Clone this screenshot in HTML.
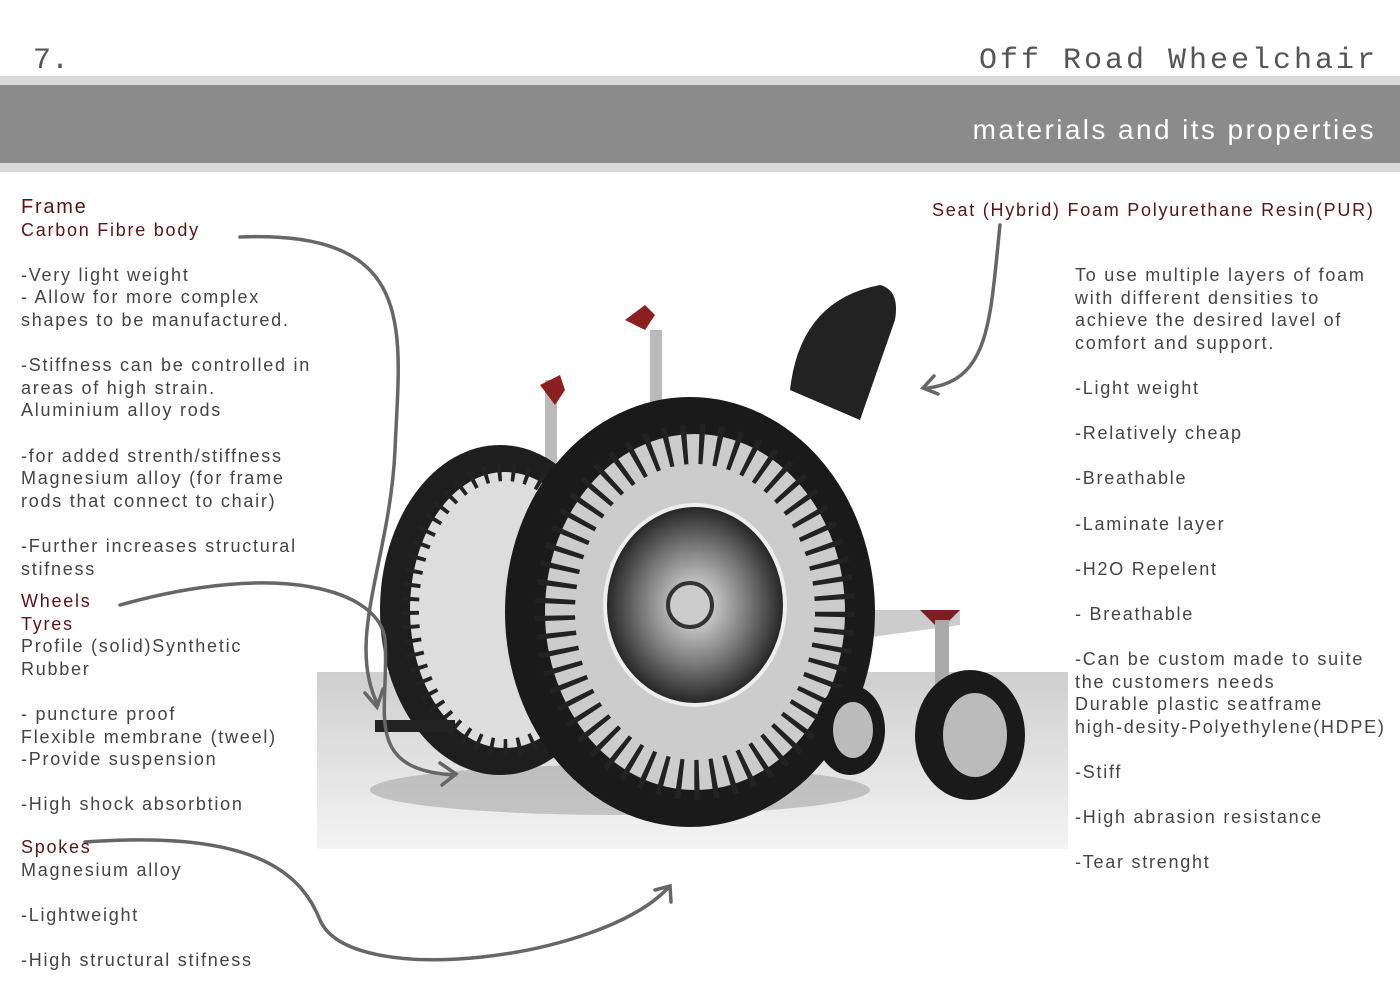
<!DOCTYPE html>
<html><head><style>
body{margin:0;width:1400px;height:990px;background:#fff;position:relative;overflow:hidden;font-family:"Liberation Sans",sans-serif}
.t{position:absolute;font-size:18px;line-height:22.6px;letter-spacing:1.75px;color:#444;white-space:pre}
.r{color:#5a1414}
</style></head><body>
<div style="position:absolute;left:0;top:76px;width:1400px;height:9px;background:#d9d9d9"></div>
<div style="position:absolute;left:0;top:85px;width:1400px;height:78px;background:#8b8b8b"></div>
<div style="position:absolute;left:0;top:163px;width:1400px;height:9px;background:#d9d9d9"></div>
<div style="position:absolute;left:33px;top:44px;font:30px 'Liberation Mono',monospace;color:#555">7.</div>
<div style="position:absolute;right:22px;top:44px;font:30px 'Liberation Mono',monospace;color:#555;letter-spacing:3px">Off Road Wheelchair</div>
<div style="position:absolute;right:24px;top:114px;font-size:28px;color:#fff;letter-spacing:2.4px">materials and its properties</div>

<svg style="position:absolute;left:0;top:0" width="1400" height="990">
<defs><linearGradient id="fl" x1="0" y1="0" x2="0" y2="1"><stop offset="0" stop-color="#cfcfcf"/><stop offset="1" stop-color="#f4f4f4"/></linearGradient>
<radialGradient id="hub"><stop offset="0" stop-color="#eee"/><stop offset=".6" stop-color="#777"/><stop offset="1" stop-color="#222"/></radialGradient></defs>
<rect x="317" y="672" width="751" height="177" fill="url(#fl)"/>
<ellipse cx="620" cy="790" rx="250" ry="25" fill="#999" opacity=".5"/>
<path d="M790 390 Q800 300 880 285 Q900 290 895 320 L860 420 Z" fill="#222"/>
<rect x="650" y="330" width="12" height="90" fill="#bbb"/>
<rect x="545" y="380" width="12" height="90" fill="#bbb"/>
<path d="M625 320 l20 10 l10 -15 l-10 -10 z" fill="#8a2020"/>
<path d="M540 385 l20 -10 l5 15 l-10 15 z" fill="#8a2020"/>
<path d="M820 610 L960 610 L960 625 L850 640 Z" fill="#ccc"/>
<path d="M920 610 l40 0 l-20 20 z" fill="#7a2020"/>
<rect x="935" y="620" width="14" height="70" fill="#aaa"/>
<ellipse cx="500" cy="610" rx="120" ry="165" fill="#1e1e1e"/>
<ellipse cx="505" cy="610" rx="95" ry="138" fill="#ddd"/>
<ellipse cx="505" cy="610" rx="95" ry="138" fill="none" stroke="#222" stroke-width="18" stroke-dasharray="4 10"/>
<ellipse cx="690" cy="612" rx="185" ry="215" fill="#1a1a1a"/>
<ellipse cx="695" cy="612" rx="150" ry="178" fill="#ccc"/>
<ellipse cx="695" cy="612" rx="140" ry="168" fill="none" stroke="#222" stroke-width="40" stroke-dasharray="5 12"/>
<ellipse cx="695" cy="605" rx="90" ry="100" fill="url(#hub)" stroke="#eee" stroke-width="4"/>
<circle cx="690" cy="605" r="22" fill="#ccc" stroke="#333" stroke-width="4"/>
<ellipse cx="970" cy="735" rx="55" ry="65" fill="#1a1a1a"/>
<ellipse cx="975" cy="735" rx="32" ry="42" fill="#bbb"/>
<ellipse cx="850" cy="730" rx="35" ry="45" fill="#1a1a1a"/>
<ellipse cx="853" cy="730" rx="20" ry="28" fill="#bbb"/>
<rect x="375" y="720" width="80" height="12" fill="#222"/>
<g fill="none" stroke="#666" stroke-width="3.5" stroke-linecap="round">
<path d="M240 237 C420 230 400 330 395 450 C390 560 345 640 378 705"/>
<path d="M365 693 l12 14 l6 -18"/>
<path d="M120 605 C280 560 380 590 385 640 C390 710 360 770 455 775"/>
<path d="M440 763 l16 11 l-14 11"/>
<path d="M85 842 C250 830 300 870 320 920 C350 990 600 960 668 888"/>
<path d="M655 890 l15 -4 l1 16"/>
<path d="M1000 225 C990 320 990 380 928 388"/>
<path d="M934 376 l-11 12 l15 6"/>
</g>
</svg>

<div class="t" style="left:21px;top:196px"><span class="r" style="font-size:20px">Frame</span>
<span class="r">Carbon Fibre body</span>

-Very light weight
- Allow for more complex
shapes to be manufactured.

-Stiffness can be controlled in
areas of high strain.
Aluminium alloy rods

-for added strenth/stiffness
Magnesium alloy (for frame
rods that connect to chair)

-Further increases structural
stifness</div>
<div class="t" style="left:21px;top:590px"><span class="r">Wheels</span>
<span class="r">Tyres</span>
Profile (solid)Synthetic
Rubber

- puncture proof
Flexible membrane (tweel)
-Provide suspension

-High shock absorbtion</div>
<div class="t" style="left:21px;top:836px"><span class="r">Spokes</span>
Magnesium alloy

-Lightweight

-High structural stifness</div>
<div class="t r" style="left:932px;top:199px">Seat (Hybrid) Foam Polyurethane Resin(PUR)</div>
<div class="t" style="left:1075px;top:264px">To use multiple layers of foam
with different densities to
achieve the desired lavel of
comfort and support.

-Light weight

-Relatively cheap

-Breathable

-Laminate layer

-H2O Repelent

- Breathable

-Can be custom made to suite
the customers needs
Durable plastic seatframe
high-desity-Polyethylene(HDPE)

-Stiff

-High abrasion resistance

-Tear strenght</div>
</body></html>
